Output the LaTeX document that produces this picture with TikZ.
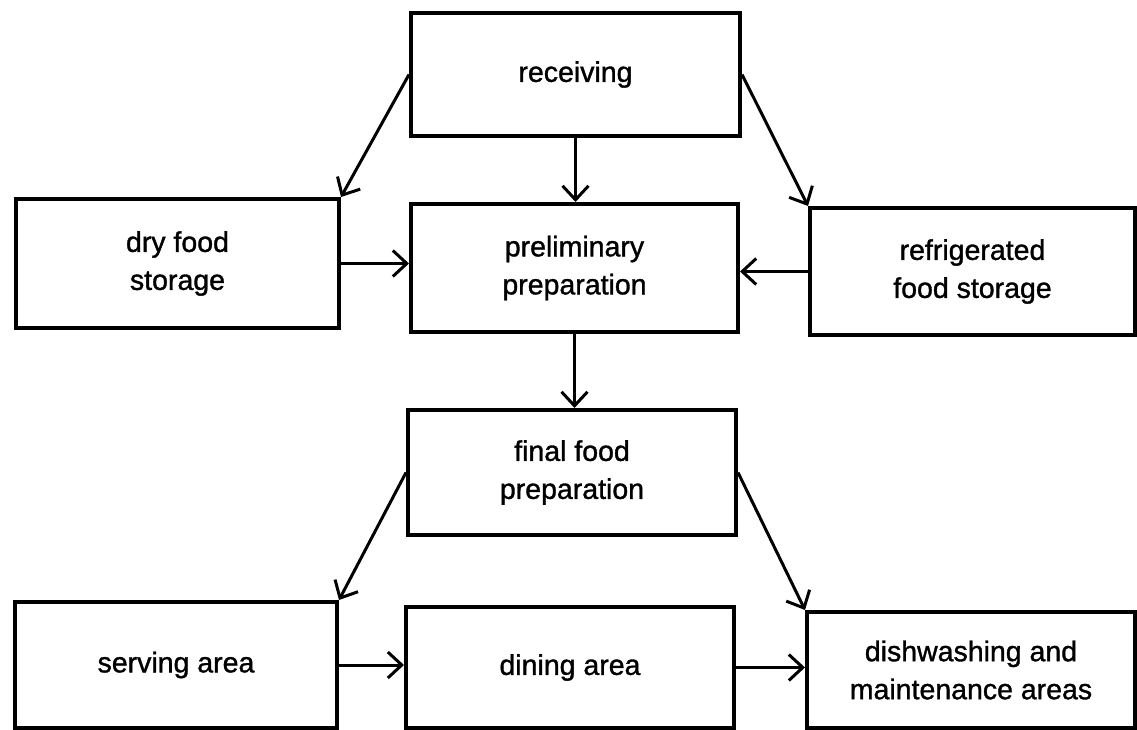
\documentclass[tikz,border=0pt]{standalone}
\usepackage{fontspec}
\setmainfont{Liberation Sans}[RawFeature={embolden=1.2}]
\usetikzlibrary{arrows.meta}
\begin{document}
\begin{tikzpicture}[x=1pt,y=-1pt,
  box/.style={draw, line width=4pt, align=center, inner sep=0pt,
    font=\fontsize{28.5}{38}\selectfont},
  flow/.style={line width=3pt, -{Straight Barb[length=14pt,width=26pt,line width=3pt]}}]
\useasboundingbox (0,0) rectangle (1137,730);
\node[box, minimum width=329pt, minimum height=123pt] (rec) at (575.5,74.5) {receiving};
\node[box, minimum width=323pt, minimum height=129pt] (dry) at (177.5,263.5) {dry food\\storage};
\node[box, minimum width=327pt, minimum height=128pt] (pre) at (574.5,268) {preliminary\\preparation};
\node[box, minimum width=325pt, minimum height=127pt] (ref) at (972.5,271.5) {refrigerated\\food storage};
\node[box, minimum width=328pt, minimum height=125pt] (fin) at (572,472.5) {final food\\preparation};
\node[box, minimum width=322pt, minimum height=126pt] (ser) at (176,665) {serving area};
\node[box, minimum width=328pt, minimum height=121pt] (din) at (570,667.5) {dining area};
\node[box, minimum width=328pt, minimum height=116pt] (dis) at (971,670) {dishwashing and\\maintenance areas};
\draw[flow] (rec.west) -- (dry.north east);
\draw[flow] (rec.south) -- (rec.south |- pre.north);
\draw[flow] (rec.east) -- (ref.north west);
\draw[flow] (dry.east) -- (dry.east -| pre.west);
\draw[flow] (ref.west) -- (ref.west -| pre.east);
\draw[flow] (pre.south) -- (pre.south |- fin.north);
\draw[flow] (fin.west) -- (ser.north east);
\draw[flow] (fin.east) -- (dis.north west);
\draw[flow] (ser.east) -- (ser.east -| din.west);
\draw[flow] (din.east) -- (din.east -| dis.west);
\end{tikzpicture}
\end{document}
